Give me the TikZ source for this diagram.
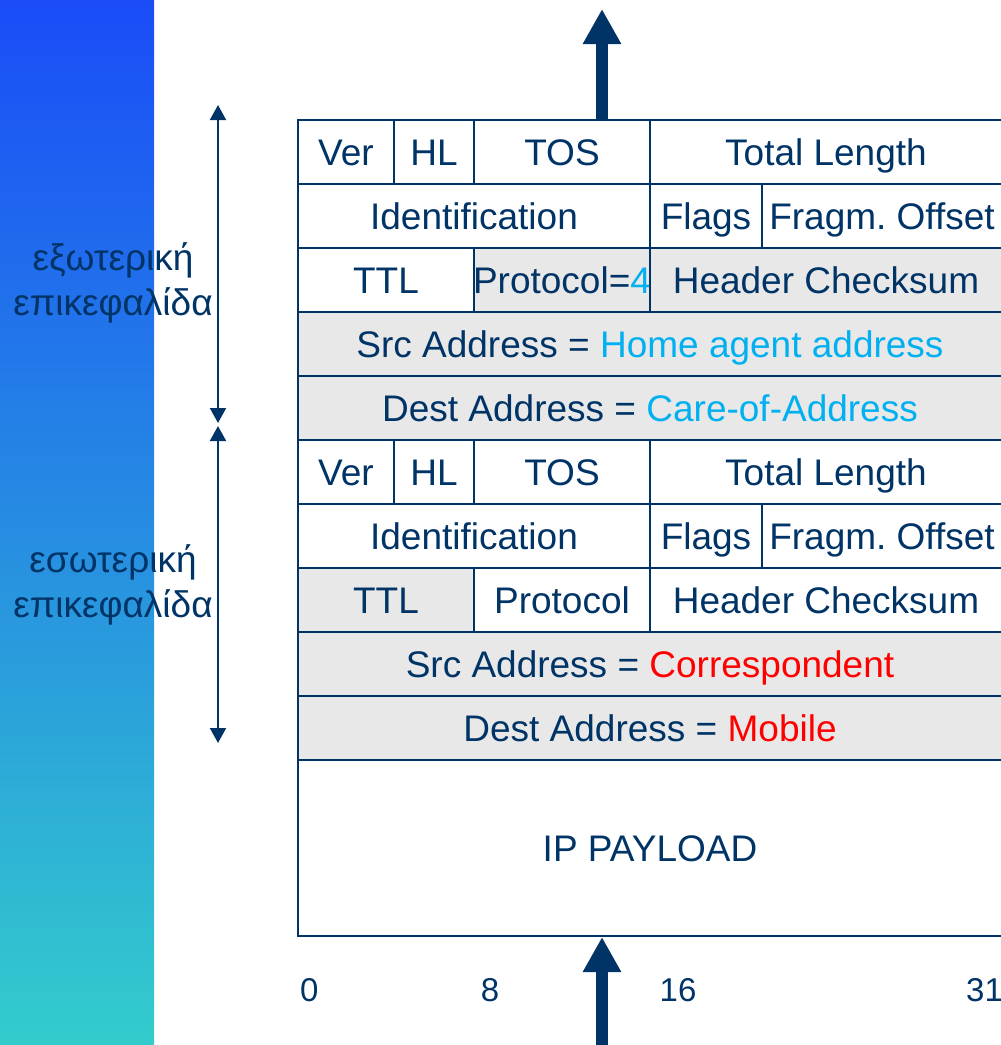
\documentclass[tikz,border=0pt]{standalone}
\usepackage{fontspec}
\setmainfont{Liberation Sans}
\usetikzlibrary{arrows.meta}
\frenchspacing
\definecolor{ink}{HTML}{003366}
\definecolor{cy}{HTML}{00B0F0}
\definecolor{shadegray}{HTML}{E8E8E8}
\definecolor{bartop}{HTML}{1A4CF8}
\definecolor{barbot}{HTML}{33CCCC}
\tikzset{
  cell/.style={draw=ink, line width=2pt, inner sep=0pt, minimum height=64pt,
    text height=26.5pt, text depth=0pt, text=ink, fill=white,
    font=\fontsize{37}{44}\selectfont},
  graycell/.style={cell, fill=shadegray},
  lbl/.style={anchor=base, inner sep=0pt, text=ink, font=\fontsize{37}{44}\selectfont},
  bitnum/.style={anchor=base, inner sep=0pt, text=ink, font=\fontsize{33}{40}\selectfont},
  bigarrow/.style={draw=ink, line width=12pt, -{Triangle[width=36pt,length=35pt]}},
  dimarrow/.style={draw=ink, line width=2pt,
    {Triangle[width=16pt,length=15pt]}-{Triangle[width=16pt,length=15pt]}}
}
\begin{document}
\frenchspacing
\begin{tikzpicture}[x=1pt,y=-1pt]
\useasboundingbox (0,0) rectangle (1001,1045);
\clip (0,0) rectangle (1001,1045);
\shade[top color=bartop, bottom color=barbot] (0,0) rectangle (154,1045);

% outer header
\node[cell, minimum width=96pt]  (ver1)  at (346,152) {Ver};
\node[cell, minimum width=80pt]  (hl1)   at (434,152) {HL};
\node[cell, minimum width=176pt] (tos1)  at (562,152) {TOS};
\node[cell, minimum width=352pt] (tl1)   at (826,152) {Total Length};
\node[cell, minimum width=352pt] (id1)   at (474,216) {Identification};
\node[cell, minimum width=112pt] (fl1)   at (706,216) {Flags};
\node[cell, minimum width=240pt] (fo1)   at (882,216) {Fragm. Offset};
\node[cell, minimum width=176pt] (ttl1)  at (386,280) {TTL};
\node[graycell, minimum width=176pt] (pr1) at (562,280) {\makebox[0pt]{Protocol=\textcolor{cy}{4}}};
\node[graycell, minimum width=352pt] (hc1) at (826,280) {Header Checksum};
\node[graycell, minimum width=704pt] (src1) at (650,344) {Src Address = \textcolor{cy}{Home agent address}};
\node[graycell, minimum width=704pt] (dst1) at (650,408) {Dest Address = \textcolor{cy}{Care-of-Address}};

% inner header
\node[cell, minimum width=96pt]  (ver2)  at (346,472) {Ver};
\node[cell, minimum width=80pt]  (hl2)   at (434,472) {HL};
\node[cell, minimum width=176pt] (tos2)  at (562,472) {TOS};
\node[cell, minimum width=352pt] (tl2)   at (826,472) {Total Length};
\node[cell, minimum width=352pt] (id2)   at (474,536) {Identification};
\node[cell, minimum width=112pt] (fl2)   at (706,536) {Flags};
\node[cell, minimum width=240pt] (fo2)   at (882,536) {Fragm. Offset};
\node[graycell, minimum width=176pt] (ttl2) at (386,600) {TTL};
\node[cell, minimum width=176pt] (pr2)   at (562,600) {Protocol};
\node[cell, minimum width=352pt] (hc2)   at (826,600) {Header Checksum};
\node[graycell, minimum width=704pt] (src2) at (650,664) {Src Address = \textcolor{red}{Correspondent}};
\node[graycell, minimum width=704pt] (dst2) at (650,728) {Dest Address = \textcolor{red}{Mobile}};

% payload
\node[cell, minimum width=704pt, minimum height=176pt] (pay) at (650,848) {IP PAYLOAD};

% big arrows
\coordinate (toptip) at (602,9);
\coordinate (botstart) at (602,1060);
\draw[bigarrow] (tos1.north -| toptip) -- (toptip);
\draw[bigarrow] (botstart) -- (pay.south -| botstart);

% dimension arrows
\coordinate (o1) at (218,105);
\coordinate (o2) at (218,423);
\coordinate (i1) at (218,426);
\coordinate (i2) at (218,743);
\draw[dimarrow] (o1) -- (o2);
\draw[dimarrow] (i1) -- (i2);

% labels
\node[lbl] (outA) at (113,270) {εξωτερική};
\node[lbl] (outB) at (113,315) {επικεφαλίδα};
\node[lbl] (inA)  at (113,572) {εσωτερική};
\node[lbl] (inB)  at (113,617) {επικεφαλίδα};

% bit numbers
\node[bitnum, anchor=base west] (b0) at (300,1001) {0};
\node[bitnum] (b8)  at (490,1001) {8};
\node[bitnum] (b16) at (678,1001) {16};
\node[bitnum, anchor=base west] (b31) at (966,1001) {31};
\end{tikzpicture}
\end{document}
